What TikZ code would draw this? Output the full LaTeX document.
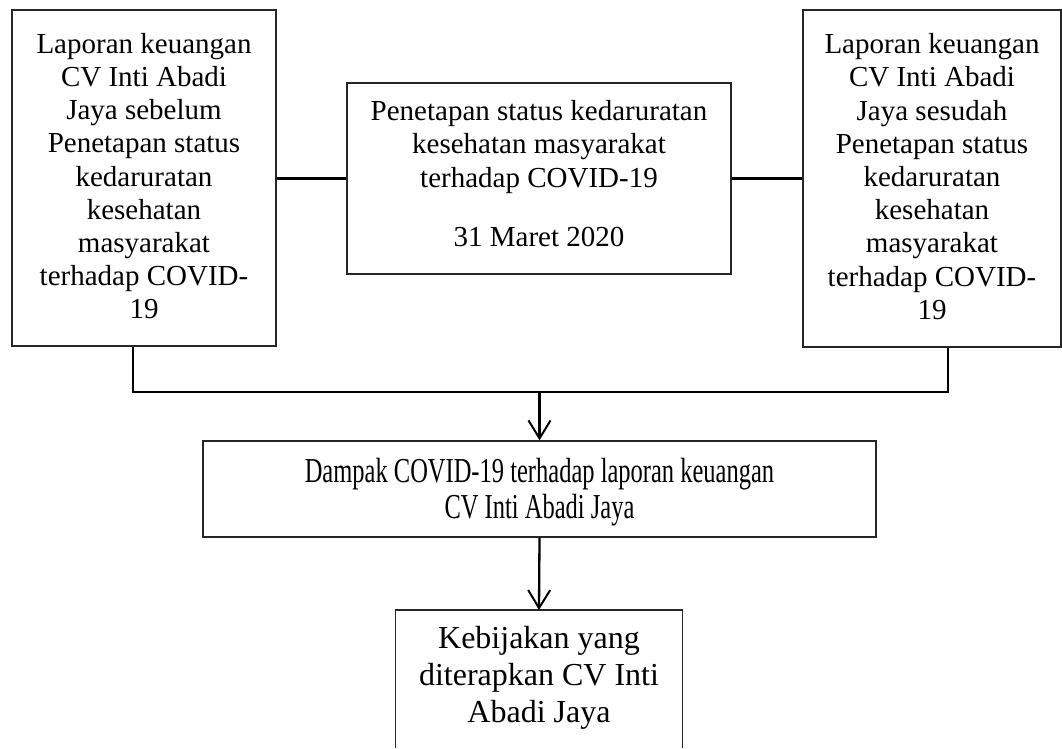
\documentclass[tikz,border=0pt]{standalone}
\usepackage{fontspec}
\setmainfont{Liberation Serif}
\newfontfamily\dampakfont{Liberation Serif}[FakeStretch=0.70]
\usetikzlibrary{arrows.meta}
\begin{document}
\begin{tikzpicture}[x=1pt,y=-1pt,
  boxline/.style={draw=black!85, line width=1.3pt},
  box/.style={boxline, inner sep=0pt, align=center, font=\fontsize{29pt}{33.2pt}\selectfont},
  conn/.style={line width=2.3pt, line join=miter},
  arr/.style={conn, -{Straight Barb[length=18pt,width=22pt,line width=2pt]}}]
\useasboundingbox (0,0) rectangle (1062,748);

\node[box, minimum width=264pt, minimum height=336pt] (L) at (144,178)
  {Laporan keuangan\\ CV Inti Abadi\\ Jaya sebelum\\ Penetapan status\\ kedaruratan\\ kesehatan\\ masyarakat\\ terhadap COVID-\\ 19\rule[-4pt]{0pt}{4pt}};

\node[box, minimum width=258pt, minimum height=337pt] (R) at (932,178.5)
  {Laporan keuangan\\ CV Inti Abadi\\ Jaya sesudah\\ Penetapan status\\ kedaruratan\\ kesehatan\\ masyarakat\\ terhadap COVID-\\ 19\rule[-4pt]{0pt}{4pt}};

\node[box, minimum width=384pt, minimum height=191pt] (M) at (539,178.5)
  {Penetapan status kedaruratan\\ kesehatan masyarakat\\ terhadap COVID-19\\[26.5pt] 31 Maret 2020\rule[-9.8pt]{0pt}{9.8pt}};

\node[box, minimum width=673pt, minimum height=96pt, font=\dampakfont\fontsize{35pt}{36pt}\selectfont] (D) at (539.5,489)
  {\rule{0pt}{30pt}Dampak COVID-19 terhadap laporan keuangan\\ CV Inti Abadi Jaya};

\node[align=center, inner xsep=0pt, inner ysep=16pt, minimum width=286pt, anchor=north, font=\fontsize{32pt}{37pt}\selectfont] (K) at (539,610)
  {Kebijakan yang\\ diterapkan CV Inti\\ Abadi Jaya};
\coordinate (edge) at (0,748);
\draw[boxline] (K.north west |- edge) -- (K.north west) -- (K.north east) -- (K.north east |- edge);

\coordinate (jl) at (133,392);
\coordinate (jr) at (948,392);
\draw[conn] (M.west -| L.east) -- (M.west);
\draw[conn] (M.east) -- (M.east -| R.west);
\draw[conn] (L.south -| jl) -- (jl) -- (jr) -- (R.south -| jr);
\draw[arr] (D.north |- jl) -- (D.north);
\draw[arr] (D.south) -- (K.north);
\end{tikzpicture}
\end{document}
